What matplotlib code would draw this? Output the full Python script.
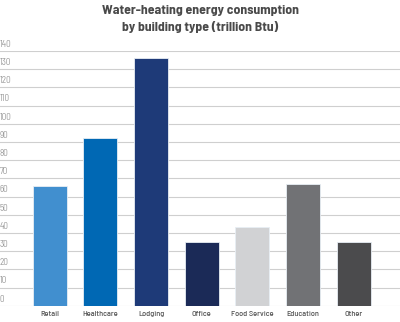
import matplotlib
matplotlib.use('Agg')
import matplotlib.pyplot as plt
import numpy as np

# Water-heating energy consumption by building type (trillion Btu)
categories = ['Retail', 'Healthcare', 'Lodging', 'Office', 'Food Service', 'Education', 'Other']
values = [66, 92, 136, 35, 43, 67, 35]
colors = ['#418fcf', '#0068b4', '#1e3a78', '#1b2a57', '#d1d2d4', '#717275', '#4b4b4d']
yticks = list(range(0, 141, 10))

plt.rcParams['font.family'] = ['Barlow Semi Condensed', 'DejaVu Sans']

fig = plt.figure(figsize=(4, 3.22), dpi=100)
ax = fig.add_axes([0, 0.0506, 1, 0.7910])

x = np.arange(len(categories))
ax.bar(x, values, width=0.67, color=colors, edgecolor='#e8eef4', linewidth=0.6, zorder=3)

ax.set_xlim(-0.98, 6.91)
ax.set_ylim(0, 140)

# gridlines with labels sitting just above them, at the left edge
for t in yticks:
    ax.axhline(t, color='#cfcfcf', lw=0.8, zorder=1)
    ax.text(0.0, t + 1.2, str(t), transform=ax.get_yaxis_transform(),
            ha='left', va='bottom', fontsize=6.5, color='#9a9a9a')

ax.set_xticks([])
ax.set_yticks([])
for s in ax.spines.values():
    s.set_visible(False)

for xi, c in zip(x, categories):
    ax.text(xi, -3.0, c, ha='center', va='top', fontsize=6, color='#555555',
            fontweight='medium')

fig.text(0.5, 0.985, 'Water-heating energy consumption\nby building type (trillion Btu)',
         ha='center', va='top', fontsize=9.9, fontweight='bold', color='#4a4a4a',
         linespacing=1.5)

fig.savefig('out.png', dpi=100)
